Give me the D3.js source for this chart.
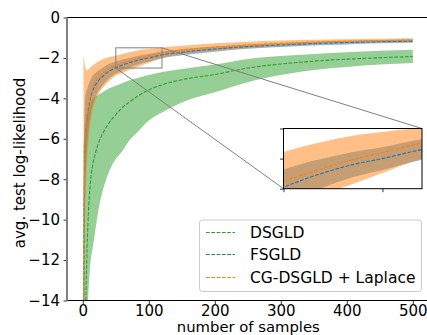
<!DOCTYPE html>
<html><head><meta charset="utf-8">
<script src="https://cdn.jsdelivr.net/npm/d3@7"></script>
<style>body{margin:0;background:#fff}svg{display:block}text{font-family:"DejaVu Sans",sans-serif}</style>
</head><body><svg id="c" width="427" height="335"></svg>
<script>
// ---- data ----
const samples = [1,2,3,4,5,6,8,10,12,15,20,25,30,40,50,60,70,85,100,120,150,200,250,300,350,400,450,500];
const dsgldMean  = [-30,-22,-18,-15.5,-13.5,-12,-10,-8.8,-8.0,-7.3,-6.6,-6.1,-5.75,-5.2,-4.8,-4.45,-4.2,-3.85,-3.58,-3.33,-3.08,-2.82,-2.5,-2.3,-2.16,-2.06,-1.99,-1.93];
const dsgldUpper = [-6.5,-6.0,-5.6,-5.3,-5.05,-4.85,-4.55,-4.35,-4.2,-4.05,-3.9,-3.8,-3.7,-3.5,-3.38,-3.25,-3.12,-2.98,-2.85,-2.7,-2.55,-2.33,-2.05,-1.9,-1.8,-1.72,-1.65,-1.6];
const dsgldLower = [-40,-35,-25,-20,-17.5,-16,-14,-12.8,-12,-11.4,-10.3,-9.3,-8.6,-7.6,-7.0,-6.6,-6.1,-5.6,-5.1,-4.7,-4.2,-3.7,-3.2,-2.85,-2.6,-2.45,-2.33,-2.25];
const fsgldMean  = [-18,-10,-7.2,-6.1,-5.5,-5.1,-4.6,-4.2,-3.9,-3.6,-3.3,-3.08,-2.92,-2.65,-2.48,-2.35,-2.24,-2.1,-2.0,-1.85,-1.72,-1.56,-1.44,-1.36,-1.29,-1.24,-1.2,-1.17];
const fsgldUpper = [-12,-6,-4.4,-3.9,-3.7,-3.6,-3.4,-3.2,-3.05,-2.88,-2.72,-2.58,-2.48,-2.29,-2.18,-2.08,-2.0,-1.89,-1.81,-1.68,-1.57,-1.43,-1.33,-1.26,-1.2,-1.15,-1.12,-1.09];
const fsgldLower = [-24,-14,-10,-8.3,-7.3,-6.6,-5.8,-5.2,-4.75,-4.32,-3.88,-3.58,-3.36,-3.01,-2.78,-2.62,-2.48,-2.31,-2.19,-2.02,-1.87,-1.69,-1.55,-1.46,-1.38,-1.33,-1.28,-1.25];
const cgMean  = [-18,-10,-7.0,-6.0,-5.4,-5.0,-4.5,-4.1,-3.8,-3.5,-3.15,-2.93,-2.78,-2.55,-2.38,-2.27,-2.16,-2.02,-1.9,-1.74,-1.61,-1.47,-1.36,-1.28,-1.21,-1.17,-1.14,-1.11];
const cgUpper = [-1.8,-2.1,-2.35,-2.5,-2.58,-2.62,-2.58,-2.52,-2.46,-2.38,-2.25,-2.15,-2.07,-1.96,-1.89,-1.8,-1.72,-1.62,-1.56,-1.48,-1.4,-1.28,-1.2,-1.14,-1.1,-1.07,-1.05,-1.03];
const cgLower = [-34.2,-17.9,-11.65,-9.5,-8.22,-7.38,-6.42,-5.68,-5.14,-4.62,-4.05,-3.71,-3.49,-3.14,-2.87,-2.74,-2.6,-2.42,-2.24,-2.0,-1.82,-1.66,-1.52,-1.42,-1.32,-1.27,-1.23,-1.19];
const seriesNames = ["DSGLD","FSGLD","CG-DSGLD + Laplace"];
const xTicks = [0,100,200,300,400,500];
const yTicks = [0,-2,-4,-6,-8,-10,-12,-14];
const insetX = [50,120], insetY = [-2.5,-1.5];

const colors = ["#2ca02c","#1f77b4","#ff7f0e"];
const series = [
  {name:seriesNames[0], mean:dsgldMean, lo:dsgldLower, hi:dsgldUpper, c:colors[0]},
  {name:seriesNames[1], mean:fsgldMean, lo:fsgldLower, hi:fsgldUpper, c:colors[1]},
  {name:seriesNames[2], mean:cgMean, lo:cgLower, hi:cgUpper, c:colors[2]}
];

const svg = d3.select("#c");
const L=67, T=17.5, B=300.5;
const x = d3.scaleLinear().domain([-23.95,524.95]).range([L, L+548.9*0.66]);
const y = d3.scaleLinear().domain([-14,0]).range([B,T]);
const defs = svg.append("defs");
defs.append("clipPath").attr("id","mainclip").append("rect").attr("x",L).attr("y",T).attr("width",x.range()[1]-L).attr("height",B-T);

function drawSeries(g, xs, ys){
  series.forEach(s=>{
    const area = d3.area().x((d,i)=>xs(samples[i])).y0((d,i)=>ys(s.lo[i])).y1((d,i)=>ys(s.hi[i])).curve(d3.curveMonotoneX);
    g.append("path").datum(samples).attr("d",area).attr("fill",s.c).attr("fill-opacity",0.5);
  });
  series.forEach(s=>{
    const line = d3.line().x((d,i)=>xs(samples[i])).y((d,i)=>ys(s.mean[i])).curve(d3.curveMonotoneX);
    g.append("path").datum(samples).attr("d",line).attr("fill","none").attr("stroke",s.c).attr("stroke-width",1.1).attr("stroke-dasharray","3.7,1.6");
  });
}
const gm = svg.append("g").attr("clip-path","url(#mainclip)");
drawSeries(gm, x, y);

// axes
const xAxis = svg.append("g").attr("transform",`translate(0,${B})`).call(d3.axisBottom(x).tickValues(xTicks).tickSize(3.5).tickPadding(1));
const yAxis = svg.append("g").attr("transform",`translate(${L},0)`).call(d3.axisLeft(y).tickValues(yTicks).tickSize(3.5).tickPadding(3.5).tickFormat(d=>d<0?"\u2212"+Math.abs(d):d));
[xAxis,yAxis].forEach(a=>{a.select(".domain").remove(); a.selectAll("text").attr("font-size",15).attr("fill","#000"); a.selectAll("line").attr("stroke","#000").attr("stroke-width",0.8);});
svg.append("line").attr("x1",L).attr("x2",427).attr("y1",T).attr("y2",T).attr("stroke","#000").attr("stroke-width",1);
svg.append("line").attr("x1",L).attr("x2",427).attr("y1",B).attr("y2",B).attr("stroke","#000").attr("stroke-width",1);
svg.append("line").attr("x1",L).attr("x2",L).attr("y1",T).attr("y2",B).attr("stroke","#808080").attr("stroke-width",2);

svg.append("text").attr("x",248.3).attr("y",332).attr("text-anchor","middle").attr("font-size",14.8).text("number of samples");
svg.append("text").attr("transform",`translate(24.5,163) rotate(-90)`).attr("text-anchor","middle").attr("font-size",15).text("avg. test log-likelihood");

// zoom rectangle + connectors
const rx0=x(insetX[0]), rx1=x(insetX[1]), ry0=y(insetY[1]), ry1=y(insetY[0]);
svg.append("rect").attr("x",rx0).attr("y",ry0).attr("width",rx1-rx0).attr("height",ry1-ry0).attr("fill","none").attr("stroke","#808080").attr("stroke-width",1);
const IL=283.5, IR=422, IT=128.5, IB=188.7;
svg.append("line").attr("x1",rx0).attr("y1",ry1).attr("x2",IL).attr("y2",IB).attr("stroke","#808080").attr("stroke-width",1);
svg.append("line").attr("x1",rx1).attr("y1",ry0).attr("x2",IR).attr("y2",IT).attr("stroke","#808080").attr("stroke-width",1);

// inset
const xi = d3.scaleLinear().domain(insetX).range([IL,IR]);
const yi = d3.scaleLinear().domain(insetY).range([IB,IT]);
defs.append("clipPath").attr("id","insclip").append("rect").attr("x",IL).attr("y",IT).attr("width",IR-IL).attr("height",IB-IT);
svg.append("rect").attr("x",IL).attr("y",IT).attr("width",IR-IL).attr("height",IB-IT).attr("fill","#fff");
const gi = svg.append("g").attr("clip-path","url(#insclip)");
drawSeries(gi, xi, yi);
svg.append("g").attr("transform",`translate(0,${IB})`).call(d3.axisBottom(xi).tickValues([50,100]).tickSize(3.5).tickFormat("")).call(g=>{g.select(".domain").remove();g.selectAll("line").attr("stroke","#000").attr("stroke-width",0.8);});
svg.append("g").attr("transform",`translate(${IL},0)`).call(d3.axisLeft(yi).tickValues([-2.5,-2,-1.5]).tickSize(3.5).tickFormat("")).call(g=>{g.select(".domain").remove();g.selectAll("line").attr("stroke","#000").attr("stroke-width",0.8);});
svg.append("rect").attr("x",IL).attr("y",IT).attr("width",IR-IL).attr("height",IB-IT).attr("fill","none").attr("stroke","#000").attr("stroke-width",1);

// legend
const lg = svg.append("g");
lg.append("rect").attr("x",199.5).attr("y",220).attr("width",222).attr("height",71.5).attr("rx",3).attr("fill","#fff").attr("fill-opacity",0.8).attr("stroke","#cccccc").attr("stroke-width",1);
const ly = [232.5,254.5,277.5];
series.forEach((s,i)=>{
  lg.append("line").attr("x1",206).attr("x2",235).attr("y1",ly[i]).attr("y2",ly[i]).attr("stroke",s.c).attr("stroke-width",1).attr("stroke-dasharray","3.7,1.6");
  lg.append("text").attr("x",250).attr("y",ly[i]+5.5).attr("font-size",15.5).text(s.name);
});
</script></body></html>
